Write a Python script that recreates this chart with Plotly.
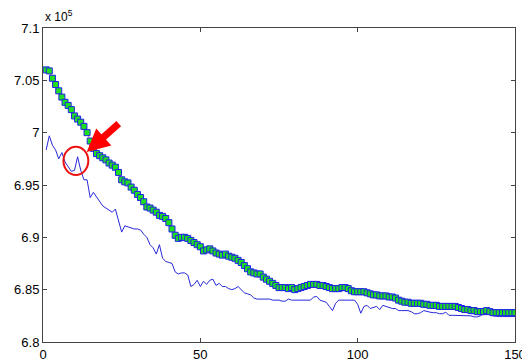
import plotly.graph_objects as go

iterations = list(range(1, 151))

series_markers = [
    7.060, 7.059, 7.052, 7.046, 7.040, 7.034, 7.029, 7.026, 7.022, 7.016,
    7.013, 7.010, 7.006, 7.000, 6.992, 6.985, 6.980, 6.978, 6.976, 6.974,
    6.971, 6.969, 6.967, 6.962, 6.955, 6.953, 6.952, 6.948, 6.945, 6.941,
    6.938, 6.934, 6.929, 6.928, 6.926, 6.924, 6.921, 6.920, 6.918, 6.914,
    6.908, 6.902, 6.899, 6.900, 6.900, 6.899, 6.897, 6.895, 6.893, 6.891,
    6.887, 6.888, 6.889, 6.887, 6.885, 6.884, 6.883, 6.884, 6.882, 6.881,
    6.880, 6.878, 6.876, 6.873, 6.870, 6.867, 6.866, 6.865, 6.865, 6.862,
    6.860, 6.858, 6.856, 6.854, 6.852, 6.852, 6.852, 6.851, 6.852, 6.850,
    6.851, 6.852, 6.853, 6.854, 6.855, 6.855, 6.855, 6.854, 6.854, 6.853,
    6.852, 6.851, 6.851, 6.851, 6.852, 6.852, 6.851, 6.849, 6.848, 6.848,
    6.848, 6.848, 6.847, 6.846, 6.845, 6.845, 6.844, 6.844, 6.844, 6.843,
    6.843, 6.842, 6.840, 6.839, 6.838, 6.838, 6.837, 6.837, 6.837, 6.837,
    6.836, 6.836, 6.835, 6.835, 6.835, 6.834, 6.834, 6.834, 6.834, 6.834,
    6.834, 6.833, 6.832, 6.831, 6.831, 6.830, 6.830, 6.829, 6.829, 6.829,
    6.830, 6.829, 6.828, 6.828, 6.828, 6.828, 6.828, 6.828, 6.828, 6.828,
]

series_line = [
    6.9835, 6.997, 6.988, 6.9835, 6.975, 6.981, 6.972, 6.967, 6.963, 6.964,
    6.977, 6.964, 6.955, 6.955, 6.938, 6.943, 6.939, 6.934, 6.930, 6.928,
    6.926, 6.924, 6.927, 6.915, 6.905, 6.911, 6.910, 6.909, 6.908, 6.908,
    6.907, 6.903, 6.900, 6.893, 6.890, 6.884, 6.893, 6.880, 6.877, 6.876,
    6.875, 6.867, 6.865, 6.866, 6.866, 6.864, 6.853, 6.855, 6.859, 6.853,
    6.858, 6.855, 6.859, 6.860, 6.854, 6.856, 6.853, 6.853, 6.851, 6.850,
    6.851, 6.853, 6.850, 6.847, 6.846, 6.845, 6.842, 6.841, 6.841, 6.841,
    6.841, 6.841, 6.840, 6.840, 6.840, 6.839, 6.839, 6.841, 6.840, 6.840,
    6.840, 6.840, 6.840, 6.840, 6.840, 6.843, 6.8435, 6.840, 6.839, 6.838,
    6.834, 6.830, 6.837, 6.840, 6.840, 6.840, 6.840, 6.840, 6.840, 6.836,
    6.8275, 6.834, 6.835, 6.832, 6.833, 6.834, 6.831, 6.835, 6.834, 6.833,
    6.832, 6.832, 6.830, 6.830, 6.830, 6.830, 6.829, 6.827, 6.827, 6.828,
    6.830, 6.829, 6.8285, 6.828, 6.828, 6.827, 6.827, 6.8285, 6.8255, 6.8255,
    6.8255, 6.8255, 6.8253, 6.825, 6.825, 6.825, 6.824, 6.824, 6.825, 6.827,
    6.8268, 6.8266, 6.825, 6.8243, 6.8243, 6.8243, 6.8243, 6.8243, 6.8243, 6.8243,
]

x_ticks = [0, 50, 100, 150]
y_ticks = [6.8, 6.85, 6.9, 6.95, 7.0, 7.05, 7.1]
y_tick_labels = ["6.8", "6.85", "6.9", "6.95", "7", "7.05", "7.1"]

fig = go.Figure()
fig.add_trace(go.Scatter(
    x=iterations, y=series_line, mode="lines",
    line=dict(color="#2828d8", width=1), showlegend=False,
))
fig.add_trace(go.Scatter(
    x=iterations, y=series_markers, mode="lines+markers",
    line=dict(color="#ff3030", width=0.6),
    marker=dict(symbol="square", size=6, color="#1fe01f",
                line=dict(color="#2020e8", width=1)),
    showlegend=False,
))

# red circle highlighting the spike
fig.add_shape(type="circle", xref="x", yref="y",
              x0=6.5, x1=14.4, y0=6.9596, y1=6.9866,
              line=dict(color="#ee1111", width=2))
# red arrow pointing at the circle
fig.add_annotation(x=13.9, y=6.9815, xref="x", yref="y", ax=35, ay=-31,
                   showarrow=True, arrowhead=2, arrowsize=0.65, arrowwidth=7,
                   arrowcolor="#ff0000", text=" ")
# exponent label
fig.add_annotation(x=0, y=1, xref="paper", yref="paper", xanchor="left",
                   yanchor="bottom", yshift=2, showarrow=False,
                   text="x 10<sup>5</sup>",
                   font=dict(family="Liberation Sans, Arial", size=12, color="#000"))

axis_common = dict(
    showgrid=False, zeroline=False, showline=True, linecolor="#444",
    linewidth=1, mirror="ticks", ticks="inside", ticklen=4, tickcolor="#444",
    tickfont=dict(family="Liberation Sans, Arial", size=13, color="#000"),
    automargin=False, ticklabeloverflow="allow",
)
fig.update_xaxes(range=[0, 150], tickvals=x_ticks, **axis_common)
fig.update_yaxes(range=[6.8, 7.1], tickvals=y_ticks, ticktext=y_tick_labels,
                 **axis_common)
fig.update_layout(
    width=522, height=361, template="none",
    margin=dict(l=43, r=7, t=28, b=19),
    paper_bgcolor="white", plot_bgcolor="white",
)
fig.write_html(
    "out.html",
    config={"displayModeBar": False},
    post_script="document.body.style.margin='0px';document.body.style.overflow='hidden';",
)
